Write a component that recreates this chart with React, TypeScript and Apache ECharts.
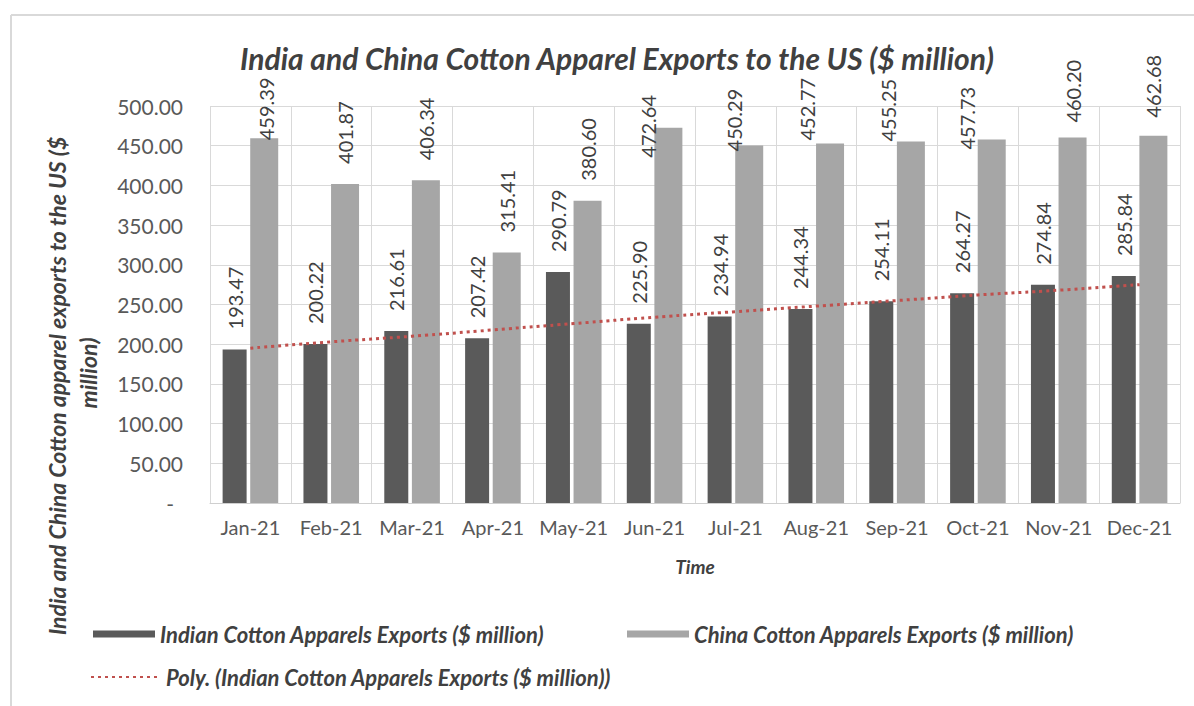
import React, { useEffect, useRef } from 'react';
import * as echarts from 'echarts';

const months = ['Jan-21', 'Feb-21', 'Mar-21', 'Apr-21', 'May-21', 'Jun-21', 'Jul-21', 'Aug-21', 'Sep-21', 'Oct-21', 'Nov-21', 'Dec-21'];
const indianExports = [193.47, 200.22, 216.61, 207.42, 290.79, 225.9, 234.94, 244.34, 254.11, 264.27, 274.84, 285.84];
const chinaExports = [459.39, 401.87, 406.34, 315.41, 380.6, 472.64, 450.29, 452.77, 455.25, 457.73, 460.2, 462.68];
const indianTrend = [195, 203, 210, 218, 226, 234, 241, 248, 255, 262, 268, 275];
const yMin = 0;
const yMax = 500;
const yStep = 50;

const INDIAN_NAME = 'Indian Cotton Apparels Exports ($ million)';
const CHINA_NAME = 'China Cotton Apparels Exports ($ million)';
const TREND_NAME = 'Poly. (Indian Cotton Apparels Exports ($ million))';

const FONT = 'Lato';
const INDIAN_BAR_W = 24;
const CHINA_BAR_W = 28;
const BAR_GAP = 0.15;
const CHINA_CENTER_SHIFT =
  -(INDIAN_BAR_W * (1 + BAR_GAP) + CHINA_BAR_W) / 2 + INDIAN_BAR_W * (1 + BAR_GAP) + CHINA_BAR_W / 2;

// label placement for China bars: gap above bar top (negative = below), horizontal shift
const chinaLabelTweak: Record<number, { gap: number; dx: number }> = {
  0: { gap: -2, dx: 2 },
  5: { gap: -30, dx: -20 },
  6: { gap: -6, dx: -15 },
  7: { gap: 3, dx: -23 },
  8: { gap: 0, dx: -23 },
  9: { gap: -10, dx: -25 },
  10: { gap: 15, dx: 0 },
  11: { gap: 18, dx: 0 },
};

export default function App() {
  const ref = useRef<HTMLDivElement>(null);
  useEffect(() => {
    document.body.style.margin = '0';
    const chart = echarts.init(ref.current!, undefined, { renderer: 'svg' });
    const legendText = {
      fontFamily: FONT,
      fontStyle: 'italic',
      fontWeight: 'bold',
      fontSize: 22,
      color: '#404040',
    };
    chart.setOption({
      animation: false,
      backgroundColor: '#ffffff',
      title: {
        text: 'India and China Cotton Apparel Exports to the US ($ million)',
        left: 612,
        textAlign: 'center',
        top: 38,
        textStyle: {
          fontFamily: FONT,
          fontStyle: 'italic',
          fontWeight: 'bold',
          fontSize: 30,
          color: '#404040',
        },
      },
      legend: [
        {
          data: [INDIAN_NAME],
          left: 88,
          top: 618,
          icon: 'rect',
          itemWidth: 62,
          itemHeight: 7,
          selectedMode: false,
          textStyle: legendText,
        },
        {
          data: [CHINA_NAME],
          left: 622,
          top: 618,
          icon: 'rect',
          itemWidth: 62,
          itemHeight: 7,
          selectedMode: false,
          textStyle: legendText,
        },
        {
          data: [TREND_NAME],
          left: 85,
          top: 661,
          itemWidth: 66,
          itemHeight: 3,
          selectedMode: false,
          itemStyle: { color: 'rgba(0,0,0,0)', borderColor: 'rgba(0,0,0,0)', borderWidth: 0 },
          textStyle: { ...legendText, padding: [0, 0, 0, 4] },
        },
      ],
      graphic: [
        {
          type: 'line',
          shape: { x1: 11, y1: 15, x2: 1194, y2: 15 },
          style: { stroke: '#d9d9d9', lineWidth: 2 },
          silent: true,
        },
        {
          type: 'line',
          shape: { x1: 11, y1: 15, x2: 11, y2: 706 },
          style: { stroke: '#d9d9d9', lineWidth: 2 },
          silent: true,
        },
        {
          type: 'text',
          x: 57,
          y: 386,
          rotation: Math.PI / 2,
          style: {
            text: 'India and China Cotton apparel exports to the US ($',
            font: `italic bold 23px ${FONT}`,
            fill: '#404040',
            align: 'center',
            verticalAlign: 'middle',
          },
        },
        {
          type: 'text',
          x: 88,
          y: 373,
          rotation: Math.PI / 2,
          style: {
            text: 'million)',
            font: `italic bold 23px ${FONT}`,
            fill: '#404040',
            align: 'center',
            verticalAlign: 'middle',
          },
        },
      ],
      grid: { left: 210, right: 14, top: 106, bottom: 203, containLabel: false },
      xAxis: {
        type: 'category',
        data: months,
        name: 'Time',
        nameLocation: 'middle',
        nameGap: 54,
        nameTextStyle: {
          fontFamily: FONT,
          fontStyle: 'italic',
          fontWeight: 'bold',
          fontSize: 19,
          color: '#404040',
        },
        axisLine: { show: true, lineStyle: { color: '#cfcfcf', width: 1 } },
        axisTick: { show: false },
        splitLine: { show: true, lineStyle: { color: '#d9d9d9', width: 1 } },
        axisLabel: {
          fontFamily: FONT,
          fontSize: 20,
          color: '#595959',
          margin: 14,
          interval: 0,
        },
      },
      yAxis: {
        type: 'value',
        min: yMin,
        max: yMax,
        interval: yStep,
        axisLine: { show: false },
        axisTick: { show: false },
        splitLine: { show: true, lineStyle: { color: '#d9d9d9', width: 1 } },
        axisLabel: {
          fontFamily: FONT,
          fontSize: 21,
          color: '#595959',
          margin: 27,
          formatter: (v: number) => (v === 0 ? '{d|-}' : v.toFixed(2)),
          rich: {
            d: { fontFamily: FONT, fontSize: 21, color: '#595959', padding: [0, 9, 0, 0] },
          },
        },
      },
      series: [
        {
          name: INDIAN_NAME,
          type: 'bar',
          data: indianExports,
          barWidth: INDIAN_BAR_W,
          barGap: `${BAR_GAP * 100}%`,
          itemStyle: { color: '#5a5a5a' },
          label: {
            show: true,
            position: 'top',
            rotate: 90,
            align: 'left',
            verticalAlign: 'middle',
            distance: 20,
            fontFamily: FONT,
            fontSize: 20,
            color: '#404040',
            formatter: (p: any) => Number(p.value).toFixed(2),
          },
          z: 2,
        },
        {
          name: CHINA_NAME,
          type: 'bar',
          data: chinaExports,
          barWidth: CHINA_BAR_W,
          itemStyle: { color: '#a6a6a6' },
          z: 2,
        },
        {
          name: 'China labels',
          type: 'custom',
          data: chinaExports.map((v, i) => [i, v]),
          encode: { x: 0, y: 1 },
          silent: true,
          z: 4,
          renderItem: (params: any, api: any) => {
            const i = params.dataIndex;
            const v = api.value(1);
            const pt = api.coord([api.value(0), v]);
            const t = chinaLabelTweak[i] || { gap: 20, dx: 0 };
            return {
              type: 'text',
              x: pt[0] + CHINA_CENTER_SHIFT + t.dx,
              y: pt[1] - t.gap,
              rotation: Math.PI / 2,
              style: {
                text: Number(v).toFixed(2),
                font: `20px ${FONT}`,
                fill: '#404040',
                align: 'left',
                verticalAlign: 'middle',
              },
            };
          },
        },
        {
          name: TREND_NAME,
          type: 'line',
          data: indianTrend,
          symbol: 'none',
          smooth: true,
          lineStyle: { color: '#c0504d', width: 3, type: [3, 4] },
          itemStyle: { color: '#c0504d' },
          z: 5,
        },
      ],
    });
    return () => chart.dispose();
  }, []);
  return <div ref={ref} style={{ width: 1194, height: 706 }} />;
}
